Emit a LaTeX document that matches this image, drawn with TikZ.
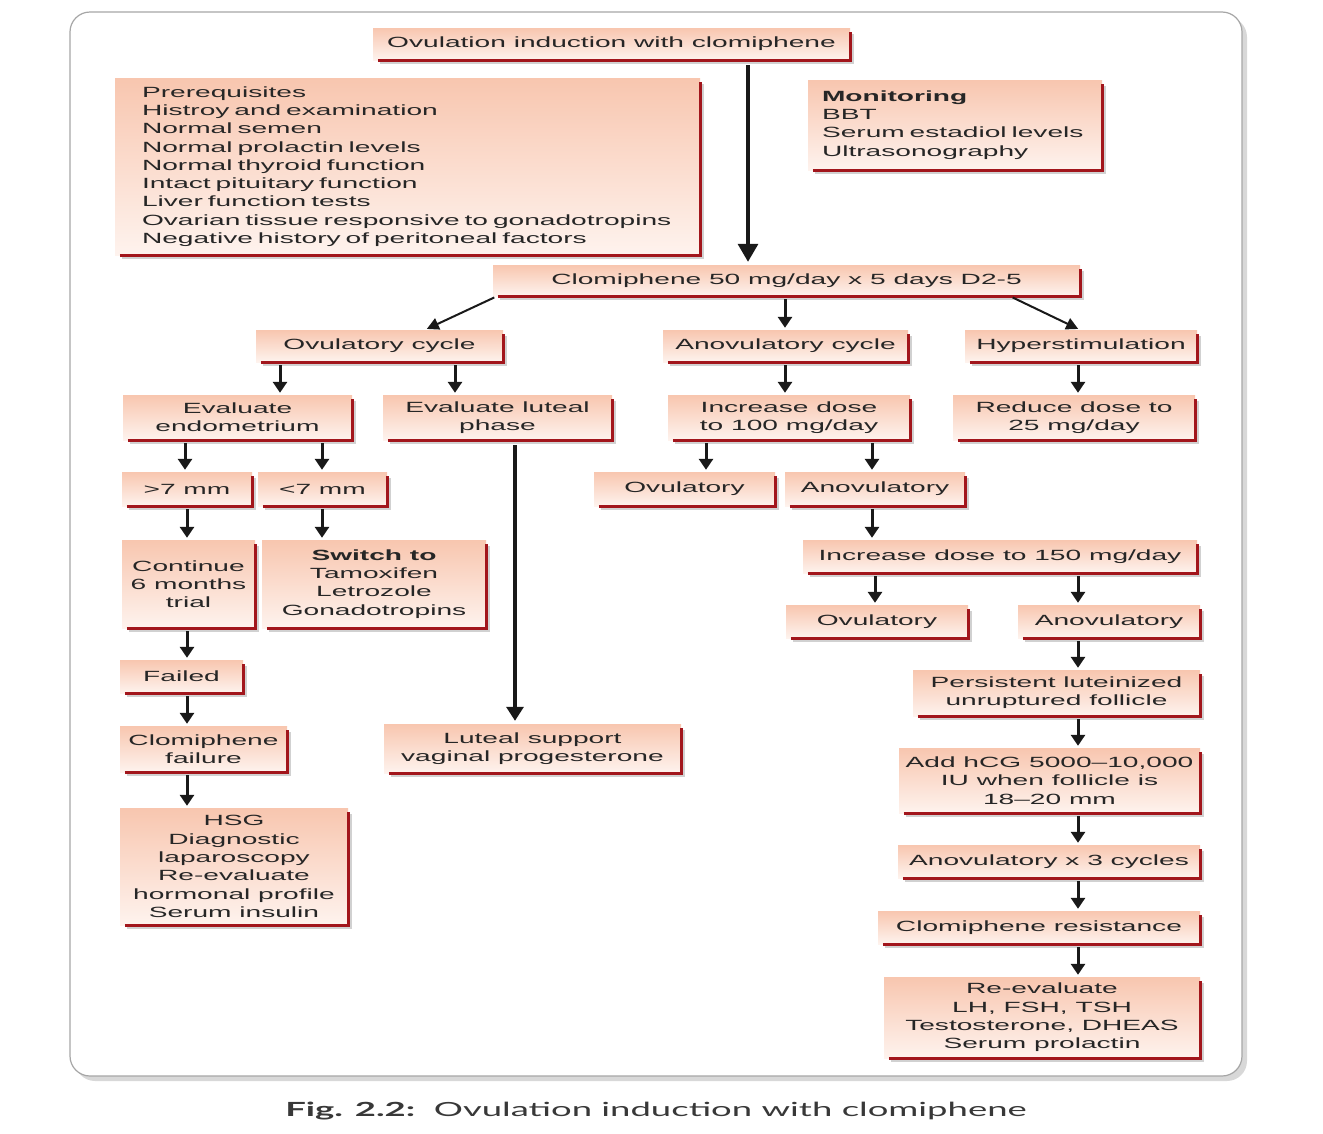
\documentclass[tikz,border=0pt]{standalone}
\usepackage{fontspec}
\setmainfont[FakeStretch=1.9]{Liberation Sans}
\newfontfamily\capfont[FakeStretch=1.87]{Lato}
\usetikzlibrary{arrows.meta,shadows,calc}
\definecolor{boxtop}{HTML}{F8C6AF}
\definecolor{boxbot}{HTML}{FEF3EE}
\definecolor{shred}{HTML}{A2161C}
\definecolor{txt}{HTML}{262626}
\begin{document}
\begin{tikzpicture}[x=1pt,y=-1pt,
  bx/.style={top color=boxtop, bottom color=boxbot, draw=none, inner sep=0pt, align=center, text=txt,
    font=\fontsize{14.8}{18.3}\selectfont},
  arr/.style={draw=black!90, line width=3pt, -{Triangle[width=14pt,length=11pt]}, shorten <=3pt, shorten >=2pt},
  arrthin/.style={arr, line width=2pt, -{Triangle[width=12pt,length=12pt]}},
  arrbig/.style={draw=black!90, line width=3.4pt, -{Triangle[width=20pt,length=18pt]}, shorten <=5pt, shorten >=3pt},
  arrlong/.style={draw=black!90, line width=3.2pt, -{Triangle[width=17pt,length=14pt]}, shorten <=5pt, shorten >=3pt},
  shd/.style={draw=shred, line width=3pt},
  shdg/.style={draw=black!18, line width=2pt},
]
\fill[white] (0,0) rectangle (1323,1133);
\useasboundingbox (0,0) rectangle (1323,1133);
\draw[draw=black!35, line width=1.2pt, rounded corners=20pt, fill=white,
  drop shadow={shadow xshift=5pt, shadow yshift=-5pt, opacity=0.3}] (70,12) rectangle (1242,1076);

\node[bx, minimum width=477pt, minimum height=32pt] (title) at (611.5,44) {Ovulation induction with clomiphene};
\node[bx, minimum width=585pt, minimum height=177pt, text width=531pt, inner xsep=27pt, align=left] (prereq) at (407.5,166.5)
  {Prerequisites\\Histroy and examination\\Normal semen\\Normal prolactin levels\\Normal thyroid function\\Intact pituitary function\\Liver function tests\\Ovarian tissue responsive to gonadotropins\\Negative history of peritoneal factors};
\node[bx, minimum width=294pt, minimum height=90pt, text width=266pt, inner xsep=14pt, align=left] (monit) at (955,125)
  {\textbf{Monitoring}\\BBT\\Serum estadiol levels\\Ultrasonography};
\node[bx, minimum width=587pt, minimum height=31pt] (clom50) at (786.5,280.5) {Clomiphene 50 mg/day x 5 days D2-5};
\node[bx, minimum width=247pt, minimum height=32pt] (ovcyc) at (379.5,346) {Ovulatory cycle};
\node[bx, minimum width=245pt, minimum height=32pt] (anovcyc) at (785.5,346) {Anovulatory cycle};
\node[bx, minimum width=232pt, minimum height=32pt] (hyper) at (1081,346) {Hyperstimulation};
\node[bx, minimum width=229pt, minimum height=45pt] (evalendo) at (237.5,417.5) {Evaluate\\endometrium};
\node[bx, minimum width=229pt, minimum height=45pt] (evallut) at (497.5,417.5) {Evaluate luteal\\phase};
\node[bx, minimum width=242pt, minimum height=45pt] (inc100) at (789,417.5) {Increase dose\\to 100 mg/day};
\node[bx, minimum width=242pt, minimum height=45pt] (reduce) at (1074,417.5) {Reduce dose to\\25 mg/day};
\node[bx, minimum width=130pt, minimum height=34pt] (gt7) at (187,489) {>7 mm};
\node[bx, minimum width=129pt, minimum height=34pt] (lt7) at (322.5,489) {<7 mm};
\node[bx, minimum width=181pt, minimum height=34pt] (ovul1) at (684.5,489) {Ovulatory};
\node[bx, minimum width=180pt, minimum height=34pt] (anov1) at (875,489) {Anovulatory};
\node[bx, minimum width=133pt, minimum height=88pt] (cont) at (188.5,584) {Continue\\6 months\\trial};
\node[bx, minimum width=224pt, minimum height=88pt] (switch) at (374,584) {\textbf{Switch to}\\Tamoxifen\\Letrozole\\Gonadotropins};
\node[bx, minimum width=394pt, minimum height=33pt] (inc150) at (1000,556.5) {Increase dose to 150 mg/day};
\node[bx, minimum width=182pt, minimum height=33pt] (ovul2) at (877,621.5) {Ovulatory};
\node[bx, minimum width=182pt, minimum height=33pt] (anov2) at (1109,621.5) {Anovulatory};
\node[bx, minimum width=123pt, minimum height=33pt] (failed) at (181.5,676.5) {Failed};
\node[bx, minimum width=287pt, minimum height=46pt] (persist) at (1056.5,693) {Persistent luteinized\\unruptured follicle};
\node[bx, minimum width=167pt, minimum height=46pt] (clomfail) at (203.5,749) {Clomiphene\\failure};
\node[bx, minimum width=297pt, minimum height=49pt] (luteal) at (532.5,748.5) {Luteal support\\vaginal progesterone};
\node[bx, minimum width=301pt, minimum height=65pt] (addhcg) at (1049.5,780.5) {Add hCG 5000--10,000\\IU when follicle is\\18--20 mm};
\node[bx, minimum width=228pt, minimum height=117pt] (hsg) at (234,866.5) {HSG\\Diagnostic\\laparoscopy\\Re-evaluate\\hormonal profile\\Serum insulin};
\node[bx, minimum width=302pt, minimum height=33pt] (anov3x) at (1049,861.5) {Anovulatory x 3 cycles};
\node[bx, minimum width=322pt, minimum height=33pt] (resist) at (1039,927.5) {Clomiphene resistance};
\node[bx, minimum width=316pt, minimum height=81pt] (reeval) at (1042,1017.5) {Re-evaluate\\LH, FSH, TSH\\Testosterone, DHEAS\\Serum prolactin};

\foreach \n in {title,prereq,monit,clom50,ovcyc,anovcyc,hyper,evalendo,evallut,inc100,reduce,gt7,lt7,ovul1,anov1,cont,switch,inc150,ovul2,anov2,failed,persist,clomfail,luteal,addhcg,hsg,anov3x,resist,reeval}{
  \draw[shdg] ([xshift=7pt,yshift=-2.5pt]\n.south west) -- ([xshift=2.5pt,yshift=-2.5pt]\n.south east) -- ([xshift=2.5pt,yshift=-6pt]\n.north east);
  \draw[shd] ([xshift=5pt]\n.south west) -- (\n.south east) -- ([yshift=-4pt]\n.north east);
}

\node[font=\capfont\fontsize{19.5}{22}\selectfont, text=black!78] (cap) at (656,1111) {\textbf{Fig. 2.2:}\ \ Ovulation induction with clomiphene};

\draw[arrbig] (title.south -| 748,0) -- (clom50.north -| 748,0);
\draw[arrthin] (clom50.south -| 497,0) -- (ovcyc.north -| 425,0);
\draw[arr] (clom50.south -| 785,0) -- (anovcyc.north -| 785,0);
\draw[arrthin] (clom50.south -| 1010,0) -- (hyper.north -| 1080,0);
\draw[arr] (ovcyc.south -| 280,0) -- (evalendo.north -| 280,0);
\draw[arr] (ovcyc.south -| 455,0) -- (evallut.north -| 455,0);
\draw[arr] (anovcyc.south -| 785,0) -- (inc100.north -| 785,0);
\draw[arr] (hyper.south -| 1078,0) -- (reduce.north -| 1078,0);
\draw[arr] (evalendo.south -| 185,0) -- (gt7.north -| 185,0);
\draw[arr] (evalendo.south -| 322,0) -- (lt7.north -| 322,0);
\draw[arr] (inc100.south -| 706,0) -- (ovul1.north -| 706,0);
\draw[arr] (inc100.south -| 872,0) -- (anov1.north -| 872,0);
\draw[arr] (gt7.south -| 187,0) -- (cont.north -| 187,0);
\draw[arr] (lt7.south -| 322,0) -- (switch.north -| 322,0);
\draw[arr] (anov1.south -| 872,0) -- (inc150.north -| 872,0);
\draw[arrlong] (evallut.south -| 515,0) -- (luteal.north -| 515,0);
\draw[arr] (inc150.south -| 875,0) -- (ovul2.north -| 875,0);
\draw[arr] (inc150.south -| 1078,0) -- (anov2.north -| 1078,0);
\draw[arr] (cont.south -| 187,0) -- (failed.north -| 187,0);
\draw[arr] (failed.south -| 187,0) -- (clomfail.north -| 187,0);
\draw[arr] (anov2.south -| 1078,0) -- (persist.north -| 1078,0);
\draw[arr] (clomfail.south -| 187,0) -- (hsg.north -| 187,0);
\draw[arr] (persist.south -| 1078,0) -- (addhcg.north -| 1078,0);
\draw[arr] (addhcg.south -| 1078,0) -- (anov3x.north -| 1078,0);
\draw[arr] (anov3x.south -| 1078,0) -- (resist.north -| 1078,0);
\draw[arr] (resist.south -| 1078,0) -- (reeval.north -| 1078,0);
\end{tikzpicture}
\end{document}
